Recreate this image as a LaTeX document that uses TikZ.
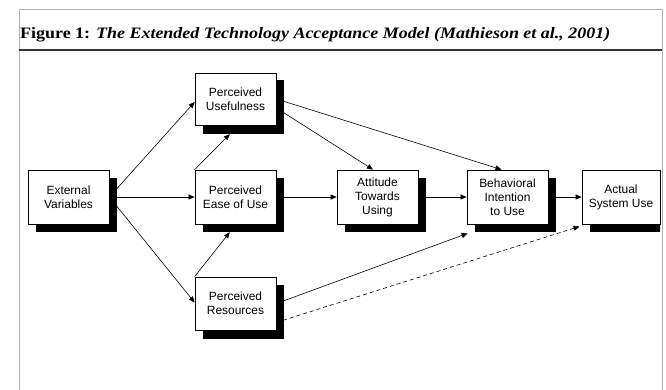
\documentclass[tikz,border=0pt]{standalone}
\usepackage{fontspec}
\setmainfont{Liberation Serif}
\newfontfamily\boxfont{Liberation Sans}
\usetikzlibrary{arrows.meta,calc}
\begin{document}
\begin{tikzpicture}[x=1bp,y=-1bp,
  boxstyle/.style={draw=black,fill=white,line width=0.8bp,minimum width=81bp,minimum height=54bp,inner sep=0pt,align=center,font=\boxfont\fontsize{12}{14}\selectfont},
  shadowstyle/.style={fill=black,minimum width=81bp,minimum height=54bp,inner sep=0pt},
  conn/.style={line width=0.6bp,-{Triangle[length=6bp,width=5bp]}},
  dashconn/.style={conn,dash pattern=on 4bp off 3bp}]
\useasboundingbox (0,0) rectangle (666,389);
\fill[white] (0,0) rectangle (666,389);
% frame
\draw[gray!60,line width=0.9bp] (19,395) -- (19,9) -- (662,9) -- (662,395);
\draw[black!80,line width=1.1bp] (19,50) -- (662,50);
\node[anchor=base west,inner sep=0pt,font=\fontsize{16}{18}\selectfont\bfseries] (title) at (20,38)
  {\resizebox{590bp}{\height}{Figure 1: \textit{The Extended Technology Acceptance Model (Mathieson et al., 2001)}}};
% shadows
\node[shadowstyle] (evs) at (76.5,205) {};
\node[shadowstyle] (pus) at (243.5,107) {};
\node[shadowstyle] (peous) at (243.5,205) {};
\node[shadowstyle] (atus) at (385.5,205) {};
\node[shadowstyle] (bis) at (515.5,205) {};
\begin{scope}
\clip (0,0) rectangle (660,389);
\node[shadowstyle] (asus) at (630.5,205) {};
\end{scope}
\node[shadowstyle] (prs) at (243.5,311.5) {};
% boxes
\node[boxstyle] (ev) at (68.5,197) {External\\Variables};
\node[boxstyle,minimum height=52bp] (pu) at (235.5,99) {Perceived\\Usefulness};
\node[boxstyle] (peou) at (235.5,197) {Perceived\\Ease of Use};
\node[boxstyle] (atu) at (377.5,197) {Attitude\\Towards\\Using};
\node[boxstyle] (bi) at (507.5,197) {Behavioral\\Intention\\to Use};
\node[boxstyle,minimum width=78bp] (asu) at (621,197) {Actual\\System Use};
\node[boxstyle,minimum height=53bp] (pr) at (235.5,303.5) {Perceived\\Resources};
% connectors
\draw[conn] (ev.east) -- ($(pu.west)+(0,3)$);
\draw[conn] (ev.east) -- (peou.west);
\draw[conn] (ev.east) -- ($(pr.west)+(0,-1)$);
\draw[conn] (peou.north west) -- ($(pus.south west)+(27,0)$);
\draw[conn] (pr.north west) -- ($(peous.south west)+(27,0)$);
\draw[conn] (peou.east) -- (atu.west);
\draw[conn] ($(pu.east)+(0,9)$) -- ($(atu.north)+(-4.5,0)$);
\draw[conn] (pu.east) -- ($(bi.north)+(-6,0)$);
\draw[conn] (atu.east) -- (bi.west);
\draw[conn] (bi.east) -- (asu.west);
\draw[conn] (pr.east) -- ($(bi.south west)+(1,9)$);
\draw[dashconn] ($(pr.south east)+(0,-8)$) -- ($(asu.south west)+(-2,2)$);
\end{tikzpicture}
\end{document}
